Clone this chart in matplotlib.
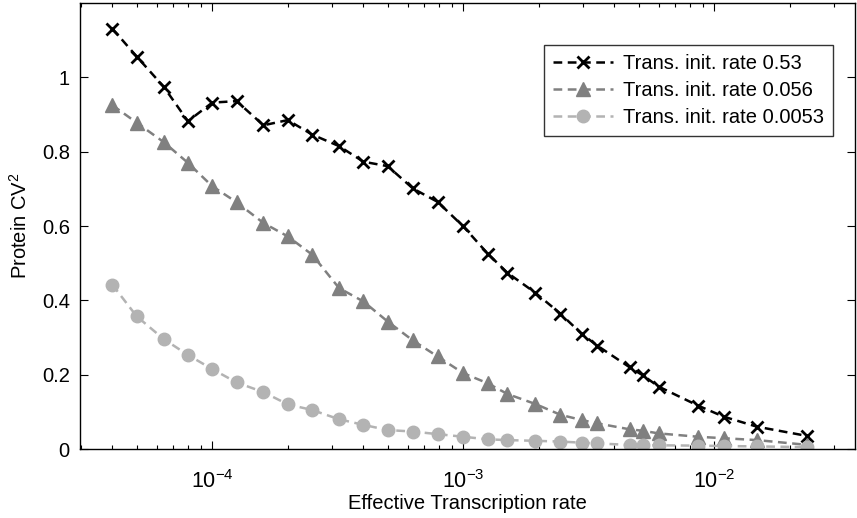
import matplotlib
matplotlib.use("Agg")
import matplotlib.pyplot as plt
from matplotlib.ticker import LogLocator, NullFormatter

plt.rcParams['font.family'] = ['Liberation Sans', 'DejaVu Sans']
plt.rcParams['mathtext.default'] = 'regular'

# effective transcription rate (shared by all three series)
rate = [4.0e-5, 5.0e-5, 6.4e-5, 8.0e-5, 1.0e-4, 1.25e-4, 1.6e-4, 2.0e-4,
        2.5e-4, 3.2e-4, 4.0e-4, 5.0e-4, 6.3e-4, 7.9e-4, 1.0e-3, 1.25e-3,
        1.5e-3, 1.94e-3, 2.44e-3, 2.96e-3, 3.42e-3, 4.6e-3, 5.2e-3, 6.0e-3,
        8.6e-3, 1.09e-2, 1.48e-2, 2.35e-2]

cv_053 = [1.131, 1.056, 0.975, 0.882, 0.932, 0.936, 0.871, 0.885, 0.846,
          0.815, 0.773, 0.761, 0.701, 0.665, 0.599, 0.526, 0.474, 0.420,
          0.364, 0.310, 0.278, 0.220, 0.198, 0.168, 0.117, 0.087, 0.060, 0.035]
cv_0056 = [0.925, 0.878, 0.826, 0.770, 0.707, 0.664, 0.608, 0.572, 0.523,
           0.433, 0.397, 0.343, 0.292, 0.249, 0.204, 0.177, 0.148, 0.121,
           0.092, 0.078, 0.069, 0.053, 0.049, 0.042, 0.033, 0.029, 0.024, 0.011]
cv_00053 = [0.442, 0.357, 0.296, 0.253, 0.215, 0.179, 0.153, 0.120, 0.105,
            0.080, 0.065, 0.051, 0.047, 0.040, 0.033, 0.026, 0.024, 0.022,
            0.020, 0.017, 0.015, 0.011, 0.010, 0.010, 0.009, 0.008, 0.007, 0.005]

labels = ['Trans. init. rate 0.53', 'Trans. init. rate 0.056',
          'Trans. init. rate 0.0053']

fig = plt.figure(figsize=(8.57, 5.18), dpi=100)
ax = fig.add_axes([0.0928, 0.1332, 0.905, 0.861])

dash = (0, (3.5, 2.2))
ax.plot(rate, cv_053, linestyle=dash, color='black', lw=1.8, marker='x',
        ms=9, mew=2, label=labels[0])
ax.plot(rate, cv_0056, linestyle=dash, color='#808080', lw=1.8, marker='^',
        ms=10, mec='#808080', label=labels[1])
ax.plot(rate, cv_00053, linestyle=dash, color='#b3b3b3', lw=1.8, marker='o',
        ms=9, mec='#b3b3b3', label=labels[2])

ax.set_xscale('log')
ax.set_xlim(2.96e-5, 0.0364)
ax.set_ylim(0, 1.2)
ax.set_yticks([0, 0.2, 0.4, 0.6, 0.8, 1.0])
ax.set_yticklabels(['0', '0.2', '0.4', '0.6', '0.8', '1'])
ax.xaxis.set_major_locator(LogLocator(base=10, numticks=10))
ax.xaxis.set_minor_locator(LogLocator(base=10, subs=range(2, 10), numticks=20))
ax.xaxis.set_minor_formatter(NullFormatter())

ax.tick_params(which='both', direction='in', top=True, right=True,
               labelsize=14.5, width=0.8)
ax.tick_params(which='major', length=6)
ax.tick_params(which='minor', length=3)
ax.tick_params(axis='x', which='major', pad=15, labelsize=15.5)
ax.tick_params(axis='y', pad=7)
for s in ax.spines.values():
    s.set_linewidth(1.0)

ax.set_xlabel('Effective Transcription rate', fontsize=14.5, labelpad=1)
ax.set_ylabel('Protein CV$^2$', fontsize=14.5, labelpad=8)

leg = ax.legend(loc='upper right', bbox_to_anchor=(0.972, 0.906), fontsize=14.5,
                frameon=True, fancybox=False, edgecolor='black',
                handlelength=3.0, handletextpad=0.5, borderpad=0.45,
                labelspacing=0.4, borderaxespad=0)
leg.get_frame().set_linewidth(1.0)

fig.savefig('out.png', dpi=100)
